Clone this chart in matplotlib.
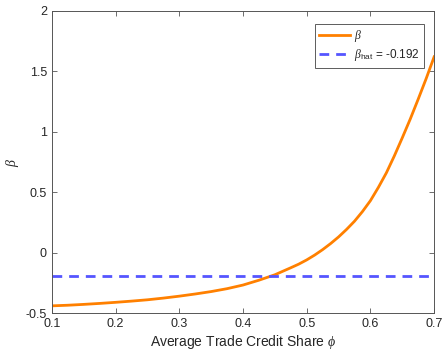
import numpy as np
import matplotlib
matplotlib.use("Agg")
import matplotlib.pyplot as plt

# values
phi = [0.1, 0.125, 0.15, 0.175, 0.2, 0.225, 0.25, 0.275, 0.3, 0.325, 0.35,
       0.375, 0.4, 0.425, 0.45, 0.475, 0.4875, 0.5, 0.5125, 0.525, 0.5375,
       0.55, 0.5625, 0.575, 0.5875, 0.6, 0.6125, 0.625, 0.6375, 0.65,
       0.6625, 0.675, 0.6875, 0.7]
beta = [-0.440, -0.435, -0.428, -0.420, -0.411, -0.401, -0.390, -0.376,
        -0.360, -0.342, -0.322, -0.298, -0.268, -0.228, -0.183, -0.125,
        -0.095, -0.060, -0.020, 0.025, 0.075, 0.130, 0.192, 0.260, 0.340,
        0.430, 0.540, 0.660, 0.800, 0.950, 1.105, 1.270, 1.440, 1.620]
beta_hat = -0.192

xticks = [0.1, 0.2, 0.3, 0.4, 0.5, 0.6, 0.7]
yticks = [-0.5, 0, 0.5, 1, 1.5, 2]
ytick_labels = ["-0.5", "0", "0.5", "1", "1.5", "2"]

plt.rcParams["font.family"] = ["Liberation Sans", "DejaVu Sans"]
plt.rcParams["mathtext.fontset"] = "custom"
plt.rcParams["mathtext.rm"] = "Liberation Sans"
plt.rcParams["mathtext.it"] = "Liberation Serif:italic"
plt.rcParams["axes.unicode_minus"] = False

grey = "#262626"
fig = plt.figure(figsize=(4.43, 3.51), dpi=100)
ax = fig.add_axes([0.117, 0.108, 0.863, 0.861])

ax.plot(phi, beta, color="#ff8000", lw=2.0, label=r"$\beta$")
ax.plot([phi[0], phi[-1]], [beta_hat, beta_hat], color="#5555ff",
        lw=2.0, ls=(0, (3.5, 2.5)),
        label=r"$\beta_{\rm hat}$ = " + f"{beta_hat:.3f}")

ax.set_xlim(0.1, 0.7)
ax.set_ylim(-0.5, 2)
ax.set_xticks(xticks)
ax.set_xticklabels([f"{t:.1f}" for t in xticks])
ax.set_yticks(yticks)
ax.set_yticklabels(ytick_labels)
ax.tick_params(direction="in", length=3.5, width=0.6, colors="#555555",
               labelcolor=grey, labelsize=9, top=True, right=True)
for s in ax.spines.values():
    s.set_color("#555555")
    s.set_linewidth(0.7)

ax.set_xlabel(r"Average Trade Credit Share $\phi$", fontsize=10, color=grey,
              labelpad=2)
ax.set_ylabel(r"$\beta$", fontsize=10, color=grey)
ax.yaxis.set_label_coords(-0.08, 0.5)

leg = ax.legend(loc="upper right", fontsize=8.5, frameon=True, fancybox=False,
                edgecolor="#333333", borderpad=0.35, handlelength=2.6,
                handletextpad=0.4, labelspacing=0.25,
                bbox_to_anchor=(0.99, 0.975))
leg.get_frame().set_linewidth(0.7)
for t in leg.get_texts():
    t.set_color(grey)

fig.savefig("out.png", dpi=100)
